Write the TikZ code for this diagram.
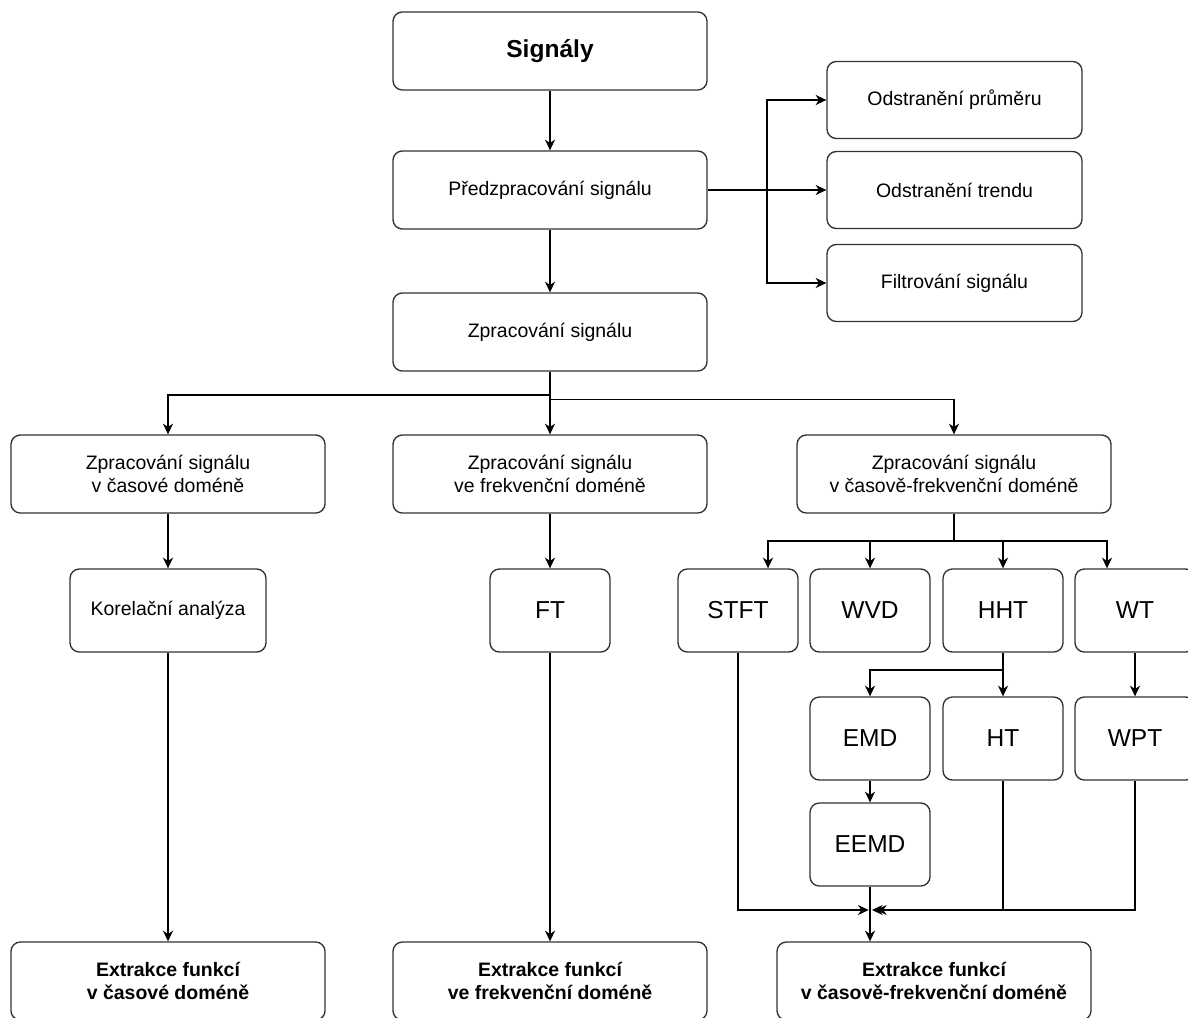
\documentclass[tikz,border=0pt]{standalone}
\usepackage{fontspec}
\setmainfont{Liberation Sans}
\usepackage{tikz}
\usetikzlibrary{arrows.meta}
\newcommand{\txt}{\fontsize{14.6pt}{17pt}\selectfont}
\newcommand{\bigtxt}{\fontsize{18.4pt}{22pt}\selectfont}
\tikzstyle{box} = [draw=black!80, line width=1pt, rounded corners=7pt, fill=white, align=center, inner sep=0pt, font=\txt]
\tikzstyle{wide} = [box, minimum width=235.5pt, minimum height=58.5pt]
\tikzstyle{side} = [box, minimum width=191.25pt, minimum height=57.75pt]
\tikzstyle{method} = [box, minimum width=90pt, minimum height=62.25pt, font=\bigtxt]
\tikzstyle{result} = [wide, font=\txt\bfseries]

\begin{document}
\begin{tikzpicture}[x=0.75pt, y=-0.75pt, line width=1pt, >={Stealth[length=8pt,width=7.5pt,inset=2.5pt]}]
			\useasboundingbox (0,0) rectangle (1188,1017);
			\clip (0,0) rectangle (1188,1017);
			\node[wide, font=\bigtxt\bfseries] (sig) at (550,51) {Signály};
			\node[wide] (pre) at (550,190) {Předzpracování signálu};
			\node[wide] (zpr) at (550,332) {Zpracování signálu};
			\node[side] (prum) at (954.5,100) {Odstranění průměru};
			\node[side] (trend) at (954.5,190) {Odstranění trendu};
			\node[side] (filt) at (954.5,283) {Filtrování signálu};
			\node[wide] (cas) at (168,474) {Zpracování signálu\\v časové doméně};
			\node[wide] (frek) at (550,474) {Zpracování signálu\\ve frekvenční doméně};
			\node[wide] (cf) at (954,474) {Zpracování signálu\\v časově-frekvenční doméně};
			\node[box, minimum width=147pt, minimum height=62.25pt] (kor) at (168,610.5) {Korelační analýza};
			\node[method] (ft) at (550,610.5) {FT};
			\node[method] (stft) at (738,610.5) {STFT};
			\node[method] (wvd) at (870,610.5) {WVD};
			\node[method] (hht) at (1003,610.5) {HHT};
			\node[method] (wt) at (1135,610.5) {WT};
			\node[method] (emd) at (870,738.5) {EMD};
			\node[method] (ht) at (1003,738.5) {HT};
			\node[method] (wpt) at (1135,738.5) {WPT};
			\node[method] (eemd) at (870,844.5) {EEMD};
			\node[result] (exc) at (168,981) {Extrakce funkcí\\v časové doméně};
			\node[result] (exf) at (550,981) {Extrakce funkcí\\ve frekvenční doméně};
			\node[result] (excf) at (934,981) {Extrakce funkcí\\v časově-frekvenční doméně};
			\coordinate (pj) at (767,190);
			\coordinate (zj) at (550,395);
			\coordinate (cfj) at (954,541);
			\coordinate (hj) at (1003,670);
			\coordinate (mj) at (870,910);
			\draw[->] (sig) -- (pre);
			\draw[->] (pre) -- (zpr);
			\draw[->] (pre) -- (trend);
			\draw[->] (pj) |- (prum);
			\draw[->] (pj) |- (filt);
			\draw[->] (zpr) -- (frek);
			\draw[->] (zj) -| (cas);
			\draw[->] (zpr.south) -- ++(0,28) -| (cf.north);
			\draw[->] (cas) -- (kor);
			\draw[->] (frek) -- (ft);
			\draw (cf) -- (cfj);
			\draw[->] (cfj) -| ([xshift=22.5pt]stft.north);
			\draw[->] (cfj) -| (wvd);
			\draw[->] (cfj) -| (hht);
			\draw[->] (cfj) -| ([xshift=-21pt]wt.north);
			\draw[->] (hht) -- (ht);
			\draw[->] (hj) -| (emd);
			\draw[->] (wt) -- (wpt);
			\draw[->] (emd) -- (eemd);
			\draw[->] (eemd) -- (eemd |- excf.north);
			\draw[->] (stft) |- ([xshift=-1pt]mj);
			\draw[->] (ht) |- ([xshift=1.5pt]mj);
			\draw[->] (wpt) |- ([xshift=4.5pt]mj);
			\draw[->] (kor) -- (exc);
			\draw[->] (ft) -- (exf);
		\end{tikzpicture}
\end{document}
